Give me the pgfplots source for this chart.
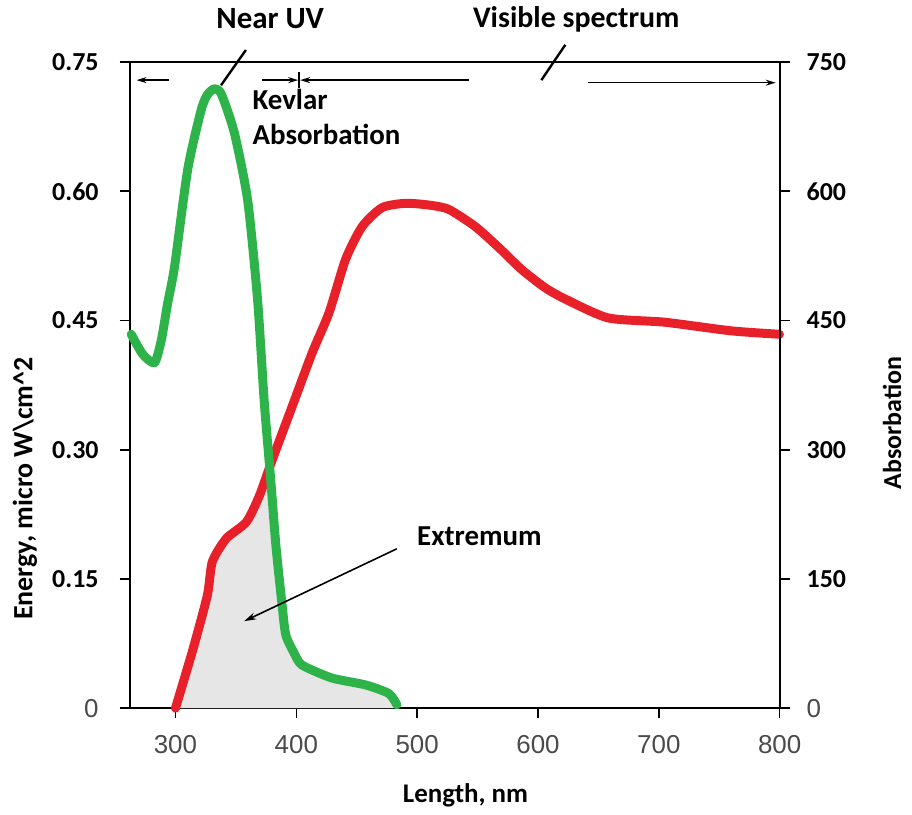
\documentclass[border=0pt]{standalone}
\usepackage{fontspec}
\setmainfont{Carlito}
\newfontfamily\arial{Liberation Sans}
\usepackage{xcolor}
\usepackage{pgfplots}
\pgfplotsset{compat=1.18}
\usetikzlibrary{arrows.meta}

\definecolor{specred}{HTML}{E8202A}
\definecolor{kevgreen}{HTML}{2DB34A}
\definecolor{shade}{HTML}{E6E6E6}
\definecolor{tickgray}{HTML}{4A4A4A}

\begin{document}
\begin{tikzpicture}
\begin{axis}[
    name=main,
    scale only axis,
    width=326pt, height=324pt,
    xmin=262, xmax=800,
    ymin=0, ymax=0.75,
    clip=false,
    axis line style={line width=1pt},
    tick align=outside,
    major tick length=5pt,
    tick style={line width=0.8pt, black},
    ytick pos=left,
    xtick pos=bottom,
    xtick={300,400,500,600,700,800},
    xticklabels={300,400,500,600,700,800},
    xticklabel style={font=\arial\fontsize{13}{15}\selectfont, text=tickgray, yshift=-5pt},
    ytick={0,0.15,0.30,0.45,0.60,0.75},
    yticklabels={{\arial\mdseries\textcolor{tickgray}{0}},0.15,0.30,0.45,0.60,0.75},
    yticklabel style={font=\bfseries\fontsize{13}{15}\selectfont, xshift=-7pt},
]
% shaded overlap under both curves
\addplot[fill=shade, draw=none] coordinates {
  (300,0)(314.0,0.066)(326.4,0.131)(330.5,0.170)(342.1,0.197)(358.6,0.216)
  (369.3,0.246)(377.9,0.278)(383.1,0.189)(388.3,0.119)(391.3,0.085)
  (398.2,0.064)(404.8,0.050)(429.5,0.035)(457.3,0.027)(476.6,0.017)
  (483.2,0.004)(483.5,0)
} -- cycle;

% energy spectrum
\addplot[specred, line width=4.5pt, line cap=round, line join=round, smooth, tension=0.4] coordinates {
  (300,0)(314.0,0.066)(326.4,0.131)(330.5,0.170)(342.1,0.197)(358.6,0.216)
  (369.3,0.246)(380.3,0.289)(396.8,0.351)(413.3,0.413)(427.1,0.459)
  (440.8,0.521)(454.5,0.559)(471.0,0.581)(490.3,0.586)(509.6,0.584)
  (526.1,0.579)(548.1,0.559)(567.3,0.535)(586.6,0.509)(605.9,0.488)
  (622.4,0.475)(658.1,0.453)(704.9,0.448)(759.8,0.438)(799.8,0.434)
};

% kevlar absorbation
\addplot[kevgreen, line width=4.5pt, line cap=round, line join=round, smooth, tension=0.4] coordinates {
  (263.4,0.434)(272.8,0.411)(282.7,0.401)(288.4,0.428)(293.4,0.469)
  (299.2,0.512)(310.1,0.625)(321.2,0.694)(326.4,0.712)(332.2,0.719)
  (337.9,0.713)(348.7,0.668)(359.7,0.590)(367.9,0.475)(373.4,0.357)
  (379.0,0.262)(383.1,0.189)(388.3,0.119)(391.3,0.085)(398.2,0.064)
  (404.8,0.050)(429.5,0.035)(457.3,0.027)(476.6,0.017)(483.2,0.004)
};

% range arrows along the top
\draw[line width=0.7pt, -{Stealth[length=5pt,width=3pt]}] (axis cs:295,0.729) -- (axis cs:267.8,0.729);
\draw[line width=0.7pt, -{Stealth[length=5pt,width=3pt]}] (axis cs:371.8,0.729) -- (axis cs:401.5,0.729);
\draw[line width=0.7pt, -{Stealth[length=5pt,width=3pt]}] (axis cs:542.6,0.729) -- (axis cs:403.2,0.729);
\draw[line width=0.8pt] (axis cs:402.3,0.738) -- (axis cs:402.3,0.720);
\draw[line width=0.7pt, -{Stealth[length=5pt,width=3pt]}] (axis cs:641.6,0.726) -- (axis cs:796.7,0.726);
\draw[line width=1.2pt] (axis cs:337.7,0.723) -- (axis cs:358.3,0.764);
\draw[line width=1.2pt] (axis cs:602.8,0.729) -- (axis cs:622.6,0.770);

% labels
\node[font=\bfseries\fontsize{15.5}{18}\selectfont, inner sep=0pt] at (axis cs:378.4,0.800) {Near UV};
\node[font=\bfseries\fontsize{15}{18}\selectfont, inner sep=0pt] at (axis cs:631.7,0.800) {Visible spectrum};
\node[font=\bfseries\fontsize{14.5}{17}\selectfont, anchor=west, inner sep=0pt] at (axis cs:363.5,0.706) {Kevlar};
\node[font=\bfseries\fontsize{14.5}{17}\selectfont, anchor=west, inner sep=0pt] at (axis cs:363.5,0.666) {Absorbation};
\node[font=\bfseries\fontsize{14.5}{17}\selectfont, anchor=west, inner sep=0pt] at (axis cs:499.7,0.199) {Extremum};
\draw[line width=0.8pt, -{Stealth[length=6pt,width=3.5pt]}] (axis cs:483.2,0.185) -- (axis cs:356.9,0.101);

\node[font=\bfseries\fontsize{13.5}{16}\selectfont, inner sep=0pt] at (axis cs:540,-0.101) {Length, nm};
\node[font=\bfseries\fontsize{14}{16}\selectfont, rotate=90, inner sep=0pt] at (axis cs:175.4,0.255) {Energy, micro W\textbackslash cm\textasciicircum 2};
\node[font=\bfseries\fontsize{13}{15}\selectfont, rotate=90, inner sep=0pt] at (axis cs:893,0.331) {Absorbation};

% page extent of the reference
\path (axis cs:154.8,-0.124) rectangle (axis cs:909.5,0.822);
\end{axis}

\begin{axis}[
    scale only axis,
    width=326pt, height=324pt,
    xmin=262, xmax=800,
    ymin=0, ymax=750,
    axis x line=none,
    axis y line*=right,
    axis line style={line width=1pt},
    tick align=outside,
    major tick length=5pt,
    tick style={line width=0.8pt, black},
    ytick={0,150,300,450,600,750},
    yticklabels={{\arial\mdseries\textcolor{tickgray}{0}},150,300,450,600,750},
    yticklabel style={font=\bfseries\fontsize{13}{15}\selectfont, xshift=5pt},
]
\end{axis}
\end{tikzpicture}
\end{document}
